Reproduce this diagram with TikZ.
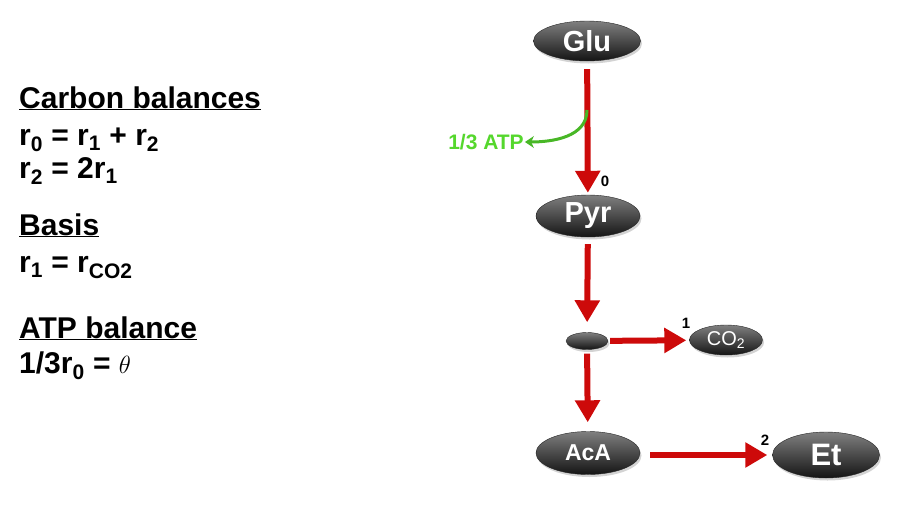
\documentclass[tikz,border=0pt]{standalone}
\usepackage{fontspec}
\setmainfont{Liberation Sans}
\usetikzlibrary{shapes.geometric, arrows.meta, shadows}

\definecolor{atpgreen}{RGB}{85,215,45}
\definecolor{fluxred}{RGB}{205,10,10}

\begin{document}
\begin{tikzpicture}[x=1pt,y=-1pt,
    met/.style={
      ellipse,
      inner sep=0pt,
      top color=black!50,
      bottom color=black!92,
      draw=black!85,
      drop shadow={shadow xshift=1.5pt, shadow yshift=-2.5pt, opacity=0.35},
      text=white,
      font=\bfseries\fontsize{29}{31}\selectfont
    },
    flux/.style={
      draw=fluxred,
      line width=6pt,
      -{Triangle[width=24pt,length=22pt]}
    },
    lbl/.style={font=\bfseries\fontsize{15}{16}\selectfont, inner sep=0pt},
    eq/.style={anchor=base west, inner sep=0pt, font=\bfseries\fontsize{30}{32}\selectfont}]
  \useasboundingbox (0,0) rectangle (902,514);

  % balances
  \node[eq] (cbal) at (19,108) {\underline{Carbon balances}};
  \node[eq] (eq0) at (19,145) {r\textsubscript{0} = r\textsubscript{1} + r\textsubscript{2}};
  \node[eq] (eq1) at (19,178) {r\textsubscript{2} = 2r\textsubscript{1}};
  \node[eq] (basis) at (19,235) {\underline{Basis}};
  \node[eq] (eq2) at (19,272) {r\textsubscript{1} = r\textsubscript{CO2}};
  \node[eq] (abal) at (19,338) {\underline{ATP balance}};
  \node[eq] (eq3) at (19,373) {1/3r\textsubscript{0} = {\fontsize{33}{34}\selectfont$\theta$}};

  % metabolites
  \node[met, minimum width=107pt, minimum height=40pt] (glu) at (587,41) {Glu};
  \node[met, minimum width=104pt, minimum height=42pt] (pyr) at (588,216) {Pyr};
  \node[met, minimum width=42pt, minimum height=17pt] (br) at (587,341) {};
  \node[met, minimum width=73pt, minimum height=30pt,
        font=\fontsize{20}{22}\selectfont] (co2) at (726,340) {CO\textsubscript{2}};
  \node[met, minimum width=104pt, minimum height=43pt,
        font=\bfseries\fontsize{23}{25}\selectfont] (aca) at (588,453) {AcA};
  \node[met, minimum width=107pt, minimum height=46pt,
        font=\bfseries\fontsize{31}{33}\selectfont] (et) at (826,455) {Et};

  % fluxes
  \draw[flux, shorten <=8pt, shorten >=2pt] (glu) -- (pyr);
  \draw[flux, shorten <=7pt, shorten >=10pt] (pyr) -- (br);
  \draw[flux, shorten <=2pt, shorten >=3pt] (br) -- (co2);
  \draw[flux, shorten <=4pt, shorten >=9pt] (br) -- (aca);
  \draw[flux, shorten <=10pt, shorten >=5pt] (aca.east |- et) -- (et);

  \node[lbl] (n0) at (605,181) {0};
  \node[lbl] (n1) at (686,323) {1};
  \node[lbl] (n2) at (765,440) {2};

  % atp
  \node[font=\bfseries\fontsize{21}{23}\selectfont, text=atpgreen, inner sep=1pt] (atp) at (486,142) {1/3 ATP};
  \coordinate (atpout) at (587,110);
  \draw[draw=atpgreen!85!black, line width=3pt, -{Stealth[width=12pt,length=9pt]}]
    (atpout) to[out=-90, in=0] (atp.east);
\end{tikzpicture}
\end{document}
